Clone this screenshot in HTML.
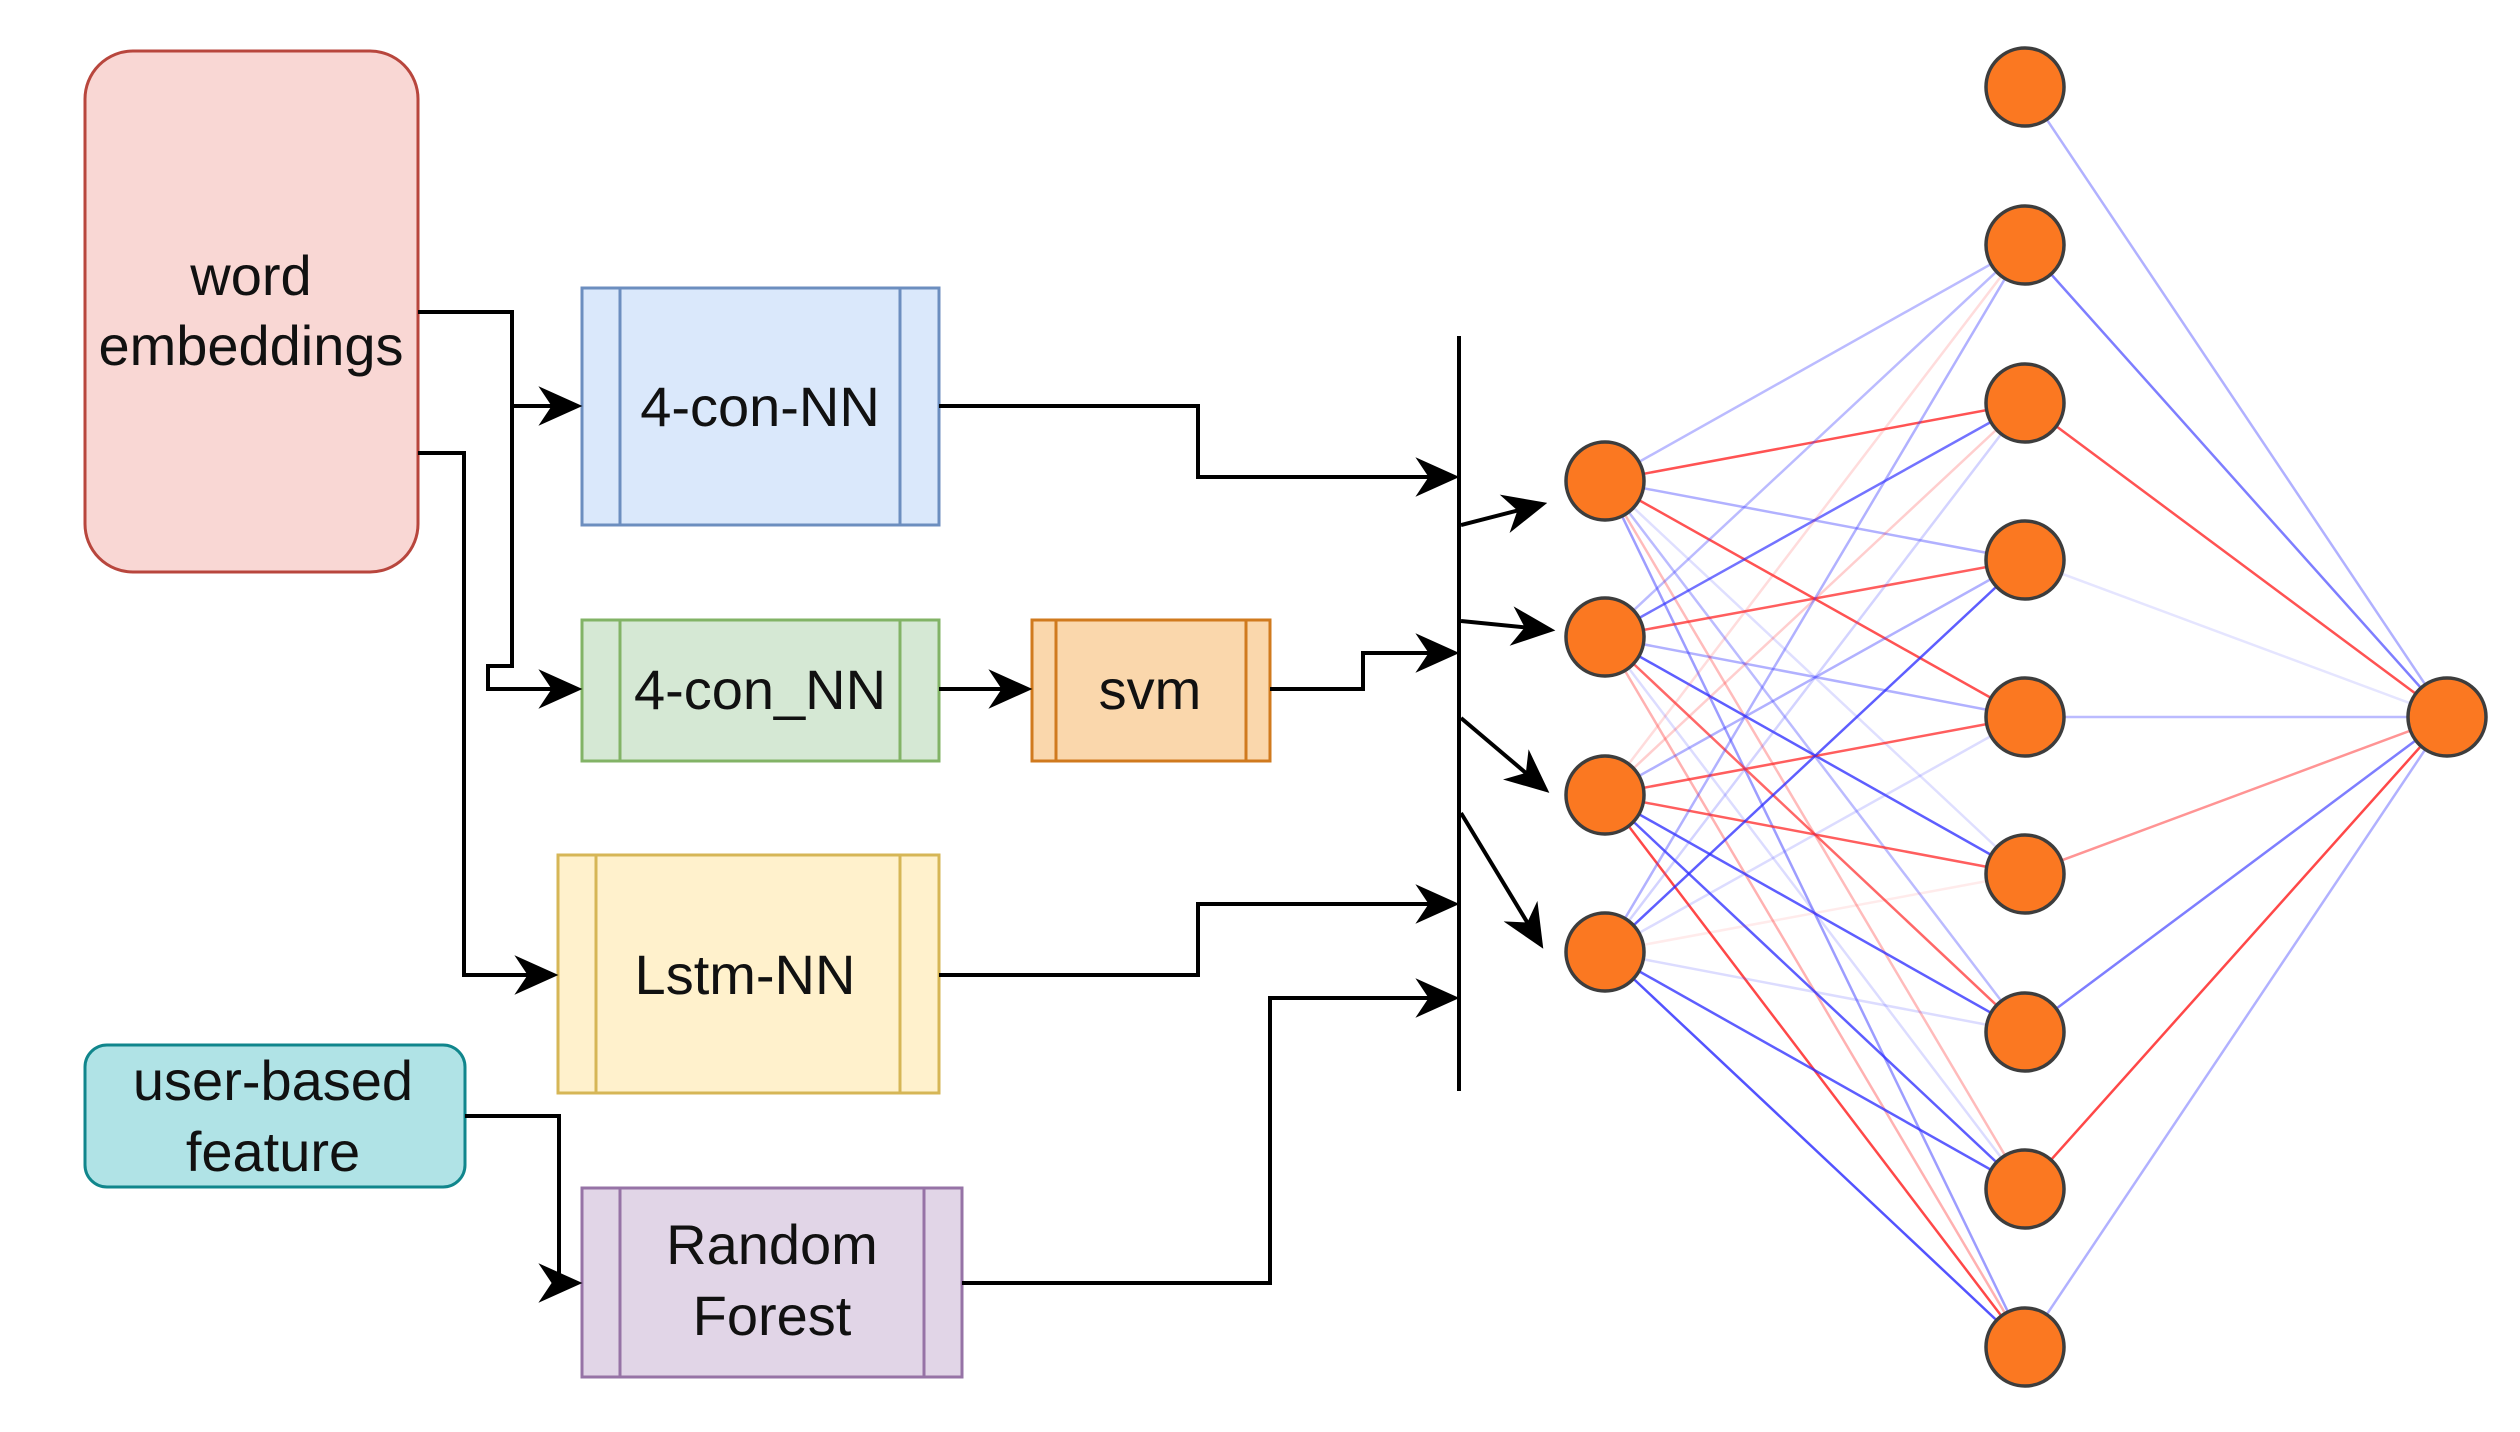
<!DOCTYPE html>
<html><head><meta charset="utf-8"><style>
html,body{margin:0;padding:0;background:#fff;}
svg{display:block;}
text{font-family:"Liberation Sans",Arial,sans-serif;font-size:56px;fill:#111;text-anchor:middle;}
</style></head><body>
<svg width="2520" height="1432" viewBox="0 0 2520 1432" xmlns="http://www.w3.org/2000/svg">
<defs>
<marker id="a" viewBox="0 0 20 20" refX="18" refY="10" markerWidth="20" markerHeight="20" markerUnits="userSpaceOnUse" orient="auto">
<path d="M0,0 L20,10 L0,20 L6,10 Z" fill="#000"/></marker>
<marker id="a2" viewBox="0 0 20 20" refX="18" refY="10" markerWidth="44" markerHeight="44" markerUnits="userSpaceOnUse" orient="auto">
<path d="M0,1 L20,10 L0,19 L6,10 Z" fill="#000"/></marker>
</defs>
<!-- boxes -->
<rect x="85" y="51" width="333" height="521" rx="48" fill="#f9d7d4" stroke="#b8463d" stroke-width="3"/>
<text x="251" y="295">word</text><text x="251" y="365">embeddings</text>

<rect x="582" y="288" width="357" height="237" fill="#dae8fb" stroke="#6c8ebf" stroke-width="3"/>
<line x1="620" y1="288" x2="620" y2="525" stroke="#6c8ebf" stroke-width="3"/><line x1="900" y1="288" x2="900" y2="525" stroke="#6c8ebf" stroke-width="3"/>
<text x="760" y="426">4-con-NN</text>

<rect x="582" y="620" width="357" height="141" fill="#d5e8d4" stroke="#82b366" stroke-width="3"/>
<line x1="620" y1="620" x2="620" y2="761" stroke="#82b366" stroke-width="3"/><line x1="900" y1="620" x2="900" y2="761" stroke="#82b366" stroke-width="3"/>
<text x="760" y="709">4-con_NN</text>

<rect x="1032" y="620" width="238" height="141" fill="#fad7ac" stroke="#d07a1e" stroke-width="3"/>
<line x1="1056" y1="620" x2="1056" y2="761" stroke="#d07a1e" stroke-width="3"/><line x1="1246" y1="620" x2="1246" y2="761" stroke="#d07a1e" stroke-width="3"/>
<text x="1150" y="709">svm</text>

<rect x="558" y="855" width="381" height="238" fill="#fff1cc" stroke="#d6b656" stroke-width="3"/>
<line x1="596" y1="855" x2="596" y2="1093" stroke="#d6b656" stroke-width="3"/><line x1="900" y1="855" x2="900" y2="1093" stroke="#d6b656" stroke-width="3"/>
<text x="745" y="994">Lstm-NN</text>

<rect x="85" y="1045" width="380" height="142" rx="22" fill="#b0e3e6" stroke="#10868c" stroke-width="3"/>
<text x="273" y="1100">user-based</text><text x="273" y="1171">feature</text>

<rect x="582" y="1188" width="380" height="189" fill="#e1d5e7" stroke="#9673a6" stroke-width="3"/>
<line x1="620" y1="1188" x2="620" y2="1377" stroke="#9673a6" stroke-width="3"/><line x1="924" y1="1188" x2="924" y2="1377" stroke="#9673a6" stroke-width="3"/>
<text x="772" y="1264">Random</text><text x="772" y="1335">Forest</text>

<!-- connectors -->
<g fill="none" stroke="#000" stroke-width="4">
<polyline points="418,312 512,312 512,666 488,666 488,689 578,689" marker-end="url(#a2)"/>
<polyline points="512,406 578,406" marker-end="url(#a2)"/>
<polyline points="418,453 464,453 464,975 554,975" marker-end="url(#a2)"/>
<polyline points="939,689 1028,689" marker-end="url(#a2)"/>
<polyline points="465,1116 559,1116 559,1283 578,1283" marker-end="url(#a2)"/>
<polyline points="939,406 1198,406 1198,477 1455,477" marker-end="url(#a2)"/>
<polyline points="1270,689 1363,689 1363,653 1455,653" marker-end="url(#a2)"/>
<polyline points="939,975 1198,975 1198,904 1455,904" marker-end="url(#a2)"/>
<polyline points="962,1283 1270,1283 1270,998 1455,998" marker-end="url(#a2)"/>
<line x1="1459" y1="336" x2="1459" y2="1091"/>
<line x1="1461" y1="525" x2="1543" y2="504" marker-end="url(#a2)"/>
<line x1="1461" y1="621" x2="1551" y2="630" marker-end="url(#a2)"/>
<line x1="1461" y1="718" x2="1546" y2="790" marker-end="url(#a2)"/>
<line x1="1461" y1="813" x2="1541" y2="945" marker-end="url(#a2)"/>
</g>

<!-- network edges -->
<g stroke-width="2.5">
<!-- I1 -->
<line x1="1605" y1="481" x2="2025" y2="245" stroke="rgba(60,60,255,0.35)"/>
<line x1="1605" y1="481" x2="2025" y2="403" stroke="rgba(255,40,40,0.8)"/>
<line x1="1605" y1="481" x2="2025" y2="560" stroke="rgba(60,60,255,0.4)"/>
<line x1="1605" y1="481" x2="2025" y2="717" stroke="rgba(255,40,40,0.8)"/>
<line x1="1605" y1="481" x2="2025" y2="874" stroke="rgba(80,80,255,0.18)"/>
<line x1="1605" y1="481" x2="2025" y2="1032" stroke="rgba(60,60,255,0.35)"/>
<line x1="1605" y1="481" x2="2025" y2="1189" stroke="rgba(255,60,60,0.35)"/>
<line x1="1605" y1="481" x2="2025" y2="1347" stroke="rgba(60,60,255,0.5)"/>
<!-- I2 -->
<line x1="1605" y1="637" x2="2025" y2="245" stroke="rgba(60,60,255,0.35)"/>
<line x1="1605" y1="637" x2="2025" y2="403" stroke="rgba(40,40,255,0.65)"/>
<line x1="1605" y1="637" x2="2025" y2="560" stroke="rgba(255,40,40,0.75)"/>
<line x1="1605" y1="637" x2="2025" y2="717" stroke="rgba(60,60,255,0.4)"/>
<line x1="1605" y1="637" x2="2025" y2="874" stroke="rgba(40,40,255,0.75)"/>
<line x1="1605" y1="637" x2="2025" y2="1032" stroke="rgba(255,40,40,0.7)"/>
<line x1="1605" y1="637" x2="2025" y2="1189" stroke="rgba(80,80,255,0.2)"/>
<line x1="1605" y1="637" x2="2025" y2="1347" stroke="rgba(255,60,60,0.4)"/>
<!-- I3 -->
<line x1="1605" y1="795" x2="2025" y2="245" stroke="rgba(255,60,60,0.18)"/>
<line x1="1605" y1="795" x2="2025" y2="403" stroke="rgba(255,60,60,0.25)"/>
<line x1="1605" y1="795" x2="2025" y2="560" stroke="rgba(60,60,255,0.4)"/>
<line x1="1605" y1="795" x2="2025" y2="717" stroke="rgba(255,40,40,0.75)"/>
<line x1="1605" y1="795" x2="2025" y2="874" stroke="rgba(255,40,40,0.75)"/>
<line x1="1605" y1="795" x2="2025" y2="1032" stroke="rgba(40,40,255,0.75)"/>
<line x1="1605" y1="795" x2="2025" y2="1189" stroke="rgba(40,40,255,0.75)"/>
<line x1="1605" y1="795" x2="2025" y2="1347" stroke="rgba(255,40,40,0.85)"/>
<!-- I4 -->
<line x1="1605" y1="952" x2="2025" y2="245" stroke="rgba(60,60,255,0.4)"/>
<line x1="1605" y1="952" x2="2025" y2="403" stroke="rgba(80,80,255,0.25)"/>
<line x1="1605" y1="952" x2="2025" y2="560" stroke="rgba(40,40,255,0.75)"/>
<line x1="1605" y1="952" x2="2025" y2="717" stroke="rgba(80,80,255,0.2)"/>
<line x1="1605" y1="952" x2="2025" y2="874" stroke="rgba(255,60,60,0.1)"/>
<line x1="1605" y1="952" x2="2025" y2="1032" stroke="rgba(80,80,255,0.2)"/>
<line x1="1605" y1="952" x2="2025" y2="1189" stroke="rgba(40,40,255,0.75)"/>
<line x1="1605" y1="952" x2="2025" y2="1347" stroke="rgba(40,40,255,0.8)"/>
<!-- hidden -> output -->
<line x1="2025" y1="87" x2="2447" y2="717" stroke="rgba(60,60,255,0.4)"/>
<line x1="2025" y1="245" x2="2447" y2="717" stroke="rgba(40,40,255,0.6)"/>
<line x1="2025" y1="403" x2="2447" y2="717" stroke="rgba(255,40,40,0.8)"/>
<line x1="2025" y1="560" x2="2447" y2="717" stroke="rgba(80,80,255,0.15)"/>
<line x1="2025" y1="717" x2="2447" y2="717" stroke="rgba(60,60,255,0.35)"/>
<line x1="2025" y1="874" x2="2447" y2="717" stroke="rgba(255,60,60,0.55)"/>
<line x1="2025" y1="1032" x2="2447" y2="717" stroke="rgba(40,40,255,0.6)"/>
<line x1="2025" y1="1189" x2="2447" y2="717" stroke="rgba(255,40,40,0.85)"/>
<line x1="2025" y1="1347" x2="2447" y2="717" stroke="rgba(60,60,255,0.4)"/>
</g>

<!-- nodes -->
<g fill="#fb7821" stroke="#3d3d3d" stroke-width="3.5">
<ellipse cx="1605" cy="481" rx="39" ry="39"/>
<ellipse cx="1605" cy="637" rx="39" ry="39"/>
<ellipse cx="1605" cy="795" rx="39" ry="39"/>
<ellipse cx="1605" cy="952" rx="39" ry="39"/>
<ellipse cx="2025" cy="87" rx="39" ry="39"/>
<ellipse cx="2025" cy="245" rx="39" ry="39"/>
<ellipse cx="2025" cy="403" rx="39" ry="39"/>
<ellipse cx="2025" cy="560" rx="39" ry="39"/>
<ellipse cx="2025" cy="717" rx="39" ry="39"/>
<ellipse cx="2025" cy="874" rx="39" ry="39"/>
<ellipse cx="2025" cy="1032" rx="39" ry="39"/>
<ellipse cx="2025" cy="1189" rx="39" ry="39"/>
<ellipse cx="2025" cy="1347" rx="39" ry="39"/>
<ellipse cx="2447" cy="717" rx="39" ry="39"/>
</g>
</svg>
</body></html>
